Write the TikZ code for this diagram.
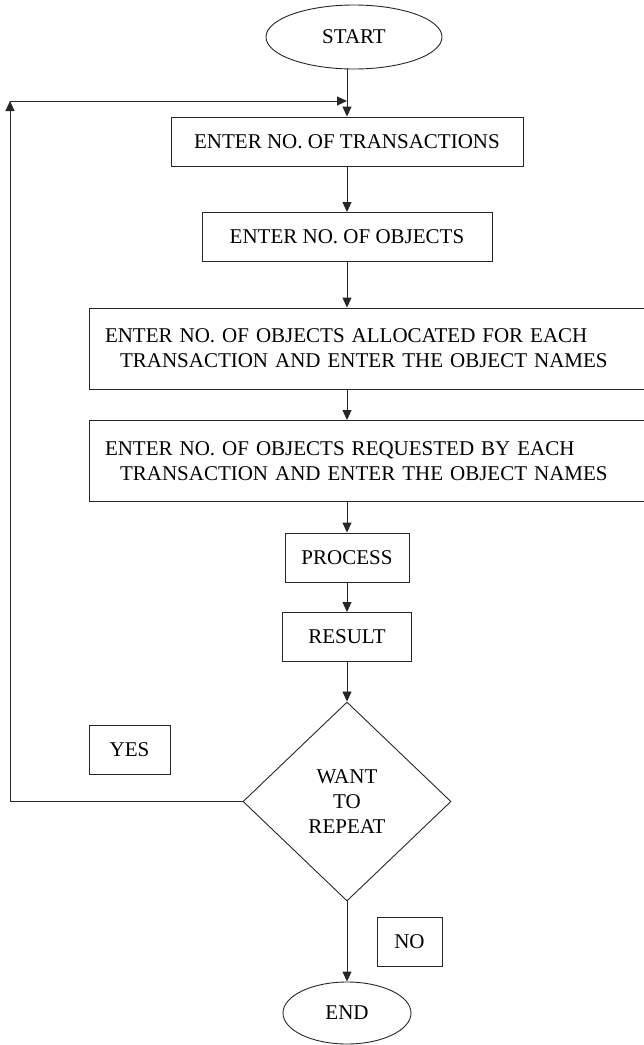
\documentclass[tikz,border=0pt]{standalone}
\usepackage{fontspec}
\setmainfont{Liberation Serif}
\usetikzlibrary{shapes, shapes.geometric, arrows.meta}

\begin{document}
\begin{tikzpicture}[x=1pt, y=-1pt, ->, >={Triangle[length=10pt,width=9pt]},
    line width=0.9pt, color=black!85,
    every node/.style={font=\fontsize{21}{25}\selectfont, text=black},
    block/.style={rectangle, draw, inner sep=0pt, minimum height=49pt},
    widebox/.style={rectangle, draw, align=left, inner xsep=16pt, text width=529pt, minimum height=81pt},
    terminal/.style={ellipse, draw, inner sep=0pt},
    decision/.style={diamond, draw, inner sep=0pt, align=center, minimum width=208pt, minimum height=199pt}]
    \useasboundingbox (0,0) rectangle (644,1045);
    \clip (0,0) rectangle (644,1045);

    \node[block, minimum width=352pt]   (EnterTrans)    at (347,141.5)  {ENTER NO. OF TRANSACTIONS};
    \node[terminal, minimum width=176pt, minimum height=64pt] (Start) [above of=EnterTrans, node distance=104.5pt, xshift=7pt] {START};
    \node[block, minimum width=290pt]   (EnterObjects)  [below of=EnterTrans, node distance=95.5pt]   {ENTER NO. OF OBJECTS};
    \node[widebox]  (EnterAlloc)    [below of=EnterObjects, node distance=111.5pt, xshift=22.5pt]
        {ENTER NO. OF OBJECTS ALLOCATED FOR EACH\\\hspace*{15pt}TRANSACTION AND ENTER THE OBJECT NAMES};
    \node[widebox]  (EnterReq)      [below of=EnterAlloc, node distance=112.5pt]
        {ENTER NO. OF OBJECTS REQUESTED BY EACH\\\hspace*{15pt}TRANSACTION AND ENTER THE OBJECT NAMES};
    \node[block, minimum width=124pt]   (Process)   [below of=EnterReq, node distance=96.5pt, xshift=-22.5pt]  {PROCESS};
    \node[block, minimum width=129pt]   (Result)    [below of=Process, node distance=79.5pt]   {RESULT};
    \node[decision] (Repeat)    [below of=Result, node distance=164.5pt]   {WANT\\TO\\REPEAT};
    \node[terminal, minimum width=128pt, minimum height=62pt] (End) [below of=Repeat, node distance=211.5pt] {END};
    \node[block, minimum width=81pt]    (Yes)   [left of=Repeat, node distance=217.5pt, yshift=52pt]   {YES};
    \node[block, minimum width=65pt]    (No)    [right of=Repeat, node distance=62.5pt, yshift=-140pt] {NO};

    \path
    (Start.south -| EnterTrans) edge (EnterTrans)
    (EnterTrans)    edge (EnterObjects)
    (EnterObjects)  edge (EnterObjects |- EnterAlloc.north)
    (EnterAlloc.south -| EnterObjects) edge (EnterObjects |- EnterReq.north)
    (EnterReq.south -| Process) edge (Process)
    (Process)   edge (Result)
    (Result)    edge (Repeat)
    (Repeat)    edge (End);

    % back to the start when the answer is yes
    \coordinate (Corner) at (10,101);
    \draw (Repeat.west) -| (Corner);
    \draw (Corner) -- (Corner -| EnterTrans);

\end{tikzpicture}
\end{document}
